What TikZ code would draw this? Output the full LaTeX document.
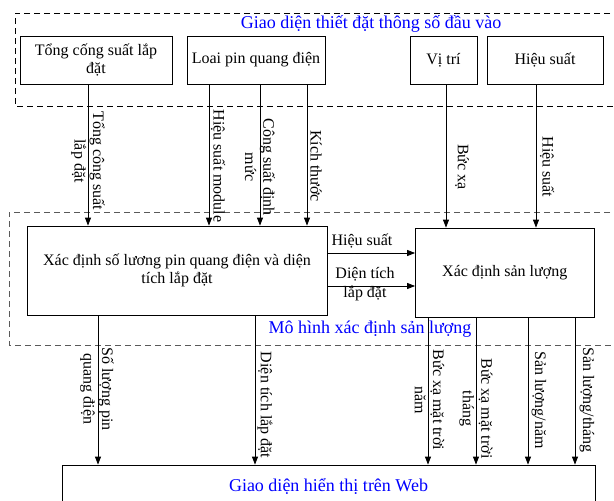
\documentclass[tikz,border=0pt]{standalone}
\usepackage{fontspec}
\setmainfont{Liberation Serif}
\usetikzlibrary{arrows.meta}
\begin{document}
\begin{tikzpicture}[x=0.75pt,y=-0.75pt,
  box/.style={draw, line width=0.6pt, inner sep=0pt, align=center, font=\fontsize{12}{13.8}\selectfont},
  lbl/.style={align=center, font=\fontsize{12}{13.8}\selectfont, inner sep=0pt},
  vlbl/.style={lbl, rotate=-90},
  ttl/.style={text=blue, font=\fontsize{13.5}{15}\selectfont, inner sep=0pt},
  arr/.style={-{Triangle[length=6pt,width=4.5pt]}, line width=0.6pt},
  dsh/.style={dash pattern=on 4.5pt off 3pt, line width=0.6pt}]
\useasboundingbox (0,0) rectangle (614,500);

% dashed regions
\draw[dsh] (620,13) -- (15,13) -- (15,106) -- (620,106);
\draw[dsh, draw=black!65] (620,212) -- (9,212) -- (9,345) -- (620,345);

% titles
\node[ttl] (t1) at (371,24) {Giao diện thiết đặt thông số đầu vào};
\node[ttl] (t2) at (370,329) {Mô hình xác định sản lượng};

% input boxes
\node[box, minimum width=114pt, minimum height=36pt] (A) at (96,60) {Tổng cống suất lắp\\đặt};
\node[box, minimum width=103.5pt, minimum height=36pt] (B) at (256,60) {Loai pin quang điện};
\node[box, minimum width=50.25pt, minimum height=36pt] (C) at (443.5,60) {Vị trí};
\node[box, minimum width=87pt, minimum height=36pt] (D) at (545,60) {Hiệu suất};

% model boxes
\node[box, minimum width=225pt, minimum height=66.75pt] (P) at (177,270.5) {Xác định số lương pin quang điện và diện\\tích lắp đặt};
\node[box, minimum width=133.9pt, minimum height=66.75pt] (Q) at (504.75,272.5) {Xác định sản lượng};

% output box
\node[box, minimum width=399.75pt, minimum height=31.5pt, text=blue, font=\fontsize{13.5}{15}\selectfont] (W) at (328.5,486) {Giao diện hiển thị trên Web};

% x positions of connectors
\coordinate (x1) at (88,0);
\coordinate (x2) at (209,0);
\coordinate (x3) at (260,0);
\coordinate (x4) at (307,0);
\coordinate (x5) at (446,0);
\coordinate (x6) at (536,0);
\coordinate (y1) at (0,253);
\coordinate (y2) at (0,286);
\coordinate (b1) at (98,0);
\coordinate (b2) at (255,0);
\coordinate (b3) at (428,0);
\coordinate (b4) at (476,0);
\coordinate (b5) at (528,0);
\coordinate (b6) at (575,0);

% input connectors
\draw[arr] (A.south -| x1) -- (P.north -| x1);
\draw[arr] (B.south -| x2) -- (P.north -| x2);
\draw[arr] (B.south -| x3) -- (P.north -| x3);
\draw[arr] (B.south -| x4) -- (P.north -| x4);
\draw[arr] (C.south -| x5) -- (Q.north -| x5);
\draw[arr] (D.south -| x6) -- (Q.north -| x6);

% horizontal connectors
\draw[arr] (P.east |- y1) -- (Q.west |- y1);
\draw[arr] (P.east |- y2) -- (Q.west |- y2);

% output connectors
\draw[arr] (P.south -| b1) -- (W.north -| b1);
\draw[arr] (P.south -| b2) -- (W.north -| b2);
\draw[arr] (Q.south -| b3) -- (W.north -| b3);
\draw[arr] (Q.south -| b4) -- (W.north -| b4);
\draw[arr] (Q.south -| b5) -- (W.north -| b5);
\draw[arr] (Q.south -| b6) -- (W.north -| b6);

% labels on input connectors
\node[vlbl] (l1) at (88,161) {Tổng công suất\\lắp đặt};
\node[vlbl] (l2) at (218,166) {Hiệu suất module};
\node[vlbl] (l3) at (260,167) {Công suất định\\mức};
\node[vlbl] (l4) at (316,166) {Kích thước};
\node[vlbl] (l5) at (462,167) {Bức xạ};
\node[vlbl] (l6) at (547,167) {Hiệu suất};

% labels on horizontal connectors
\node[lbl] (h1) at (362,241) {Hiệu suất};
\node[lbl] (h2) at (365,284) {Diện tích\\lắp đặt};

% labels on output connectors
\node[vlbl] (o1) at (97,389) {Số lượng pin\\quang điện};
\node[vlbl] (o2) at (265,405) {Diện tích lắp đặt};
\node[vlbl] (o3) at (429.5,400) {Bức xạ mặt trời\\năm};
\node[vlbl] (o4) at (476,408.5) {Bức xạ mặt trời\\tháng};
\node[vlbl] (o5) at (539,400) {Sản lượng/năm};
\node[vlbl] (o6) at (587,400) {Sản lượng/tháng};
\end{tikzpicture}
\end{document}
